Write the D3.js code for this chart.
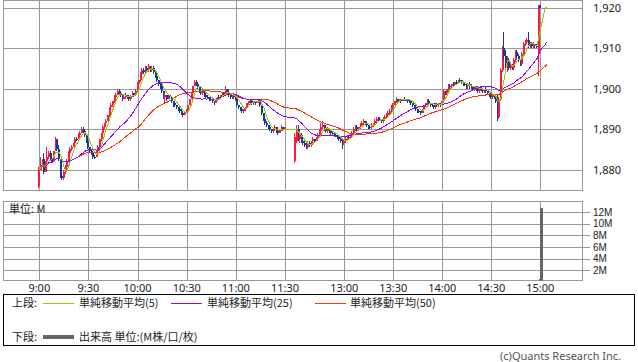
<!DOCTYPE html>
<html>
<head>
<meta charset="utf-8">
<script src="https://cdn.jsdelivr.net/npm/d3@7"></script>
<style>
  body { margin: 0; background: #fff; }
  svg { display: block; }
  text { font-family: "Noto Sans", "Noto Sans CJK JP", sans-serif; font-size: 11px; }
  .jp { font-family: "Noto Sans CJK JP", sans-serif; }
  .vl { font-family: "Liberation Sans", sans-serif; font-size: 10px; }
</style>
</head>
<body>
<div id="chart"></div>
<script>
// trading sessions (one candle per minute)
var sessions = [["9:00", "11:30"], ["12:30", "15:00"]];

var opens = [
  1876,1880,1881,1882.5,1879.5,1882,1883,1884,1882.5,1882,
  1884.5,1887.5,1885,1882.5,1878.5,1878,1879.5,1880.5,1882,1884,
  1885,1885.5,1886.5,1887.5,1887.5,1888.5,1889,1890,1889.5,1888.5,
  1887,1885.5,1884.5,1884,1883,1883,1884.5,1885.5,1887.5,1889,
  1890.5,1891.5,1892,1893.5,1895.5,1896,1897,1898,1898.5,1899.5,
  1899,1898.5,1897.5,1898,1898.5,1898,1897.5,1898,1899,1898.5,
  1899.5,1901,1902,1903.5,1904.5,1904,1905,1904.5,1905.5,1904.5,
  1905,1904,1903,1902,1901,1900.5,1899.5,1898,1898.5,1897.5,
  1898.5,1898,1897,1896.5,1896,1895.5,1895,1894.5,1894,1893.5,
  1894,1894.5,1896,1897.5,1899,1900.5,1901.5,1901,1900.5,1899.5,
  1899,1899.5,1898.5,1898,1898,1897.5,1897.5,1897,1896.5,1897.5,
  1898,1898,1898.5,1899,1898.5,1900,1899,1898.5,1898,1898.5,
  1898,1897.5,1896,1895.5,1895,1894.5,1895,1895.5,1896.5,1897,
  1897,1896.5,1897,1896.5,1897,1897.5,1896,1894,1892.5,1891.5,
  1891,1890.5,1890,1889.5,1890,1890.5,1889.5,1889,1890,1890.5,
  1890,
  1882,1887,1890,1887.5,1888.5,1887,1886.5,1886,1885.5,1886.5,
  1886,1887,1887.5,1887,1888,1888.5,1889.5,1890.5,1891,1890,
  1889.5,1890,1889.5,1889,1889,1888.5,1888.5,1888,1887.5,1887,
  1886.5,1887,1887.5,1888,1888,1888.5,1889,1890,1890.5,1890,
  1890.5,1891,1891.5,1892,1891.5,1891,1890.5,1890.5,1891,1891.5,
  1892,1892.5,1892.5,1892.5,1892,1892.5,1893,1893.5,1894,1894.5,
  1895.5,1896,1897,1897.5,1897,1897.5,1897,1897.5,1897,1897.5,
  1897,1897,1896.5,1896,1895.5,1895,1894.5,1894.5,1894,1895,
  1896,1896.5,1897,1896.5,1896,1896,1895.5,1896,1896,1896.5,
  1896,1897,1899.5,1899,1900,1900.5,1900.5,1901,1901,1901.5,
  1901.5,1902,1902,1901.5,1901,1901,1900.5,1901,1900.5,1900.5,
  1900,1900.5,1900,1899.5,1900,1900,1899.5,1900,1899.5,1899,
  1898.5,1898,1898.5,1898,1898,1893,1897.5,1904.5,1910,1908,
  1905,1907,1905,1905.5,1905,1907,1909,1908,1907,1906,
  1908.5,1911,1911.5,1912,1910.5,1911,1910.5,1911,1910.5,1909,
  1920.5
];
var highs = [
  1880.5,1883,1882.5,1884,1882,1885.5,1884.5,1884.5,1883,1884.5,
  1888,1887.5,1886,1882.5,1879,1880,1881,1882.5,1884.5,1885.5,
  1886,1886.5,1888,1888,1889,1889.5,1890.5,1890.5,1889.5,1888.5,
  1887,1885.5,1885,1884,1883.5,1884.5,1886,1887.5,1889,1891,
  1891.5,1892.5,1893.5,1895.5,1896.5,1897,1898.5,1899,1900,1900,
  1899,1898.5,1898.5,1899,1898.5,1898,1898.5,1899.5,1899,1900,
  1901.5,1902,1904,1905,1905,1905.5,1905.5,1906,1905.5,1905.5,
  1905.5,1904,1903,1902,1901.5,1900.5,1899.5,1899,1898.5,1898.5,
  1898.5,1898,1897,1897,1896,1895.5,1895,1895,1894,1894.5,
  1895,1896,1897.5,1899,1900.5,1902,1902,1901,1900.5,1899.5,
  1900,1899.5,1898.5,1898.5,1898,1898,1897.5,1897,1897.5,1898,
  1898.5,1898.5,1899,1899,1900.5,1900,1899,1898.5,1898.5,1898.5,
  1898,1897.5,1896,1895.5,1895,1895,1895.5,1896.5,1897,1897.5,
  1897.5,1897,1897,1897,1897.5,1897.5,1896,1894,1892.5,1892,
  1891,1891,1890,1890,1891,1890.5,1889.5,1890,1891,1890.5,
  1890.5,
  1889,1891,1891,1889,1889,1887.5,1887,1886.5,1887,1887,
  1887,1888,1887.5,1888,1889,1890,1891.5,1892,1891,1890.5,
  1890.5,1890,1890,1889.5,1889,1889,1888.5,1888.5,1888,1887.5,
  1887.5,1888,1888.5,1888.5,1889,1889.5,1890.5,1891,1891,1890.5,
  1891.5,1892,1892.5,1892,1892,1891,1891,1891.5,1891.5,1892.5,
  1893,1893,1893,1892.5,1893,1893.5,1894,1894.5,1895,1896,
  1896.5,1897,1898,1897.5,1897.5,1897.5,1897.5,1898,1897.5,1897.5,
  1897.5,1897,1896.5,1896,1895.5,1895,1895,1894.5,1895,1896,
  1896.5,1897.5,1897.5,1896.5,1896.5,1896,1896,1896.5,1896.5,1896.5,
  1897,1900,1899.5,1900,1901,1901,1901,1901.5,1901.5,1902,
  1902,1902.5,1902,1901.5,1901.5,1901,1901,1901.5,1901,1900.5,
  1900.5,1900.5,1900,1900,1900.5,1900,1900,1900.5,1899.5,1899,
  1898.5,1898.5,1898.5,1898,1898.5,1898,1905,1910.5,1914,1909.5,
  1908,1907.5,1906,1906,1907.5,1909.5,1909.5,1908.5,1907,1909,
  1911.5,1912,1912.5,1914,1911.5,1911.5,1911.5,1911,1911,1920.5,
  1920.5
];
var lows = [
  1875.5,1880,1880.5,1879,1879.5,1882,1882.5,1882,1881.5,1882,
  1884.5,1884.5,1882,1878,1877.5,1877.5,1879,1880,1882,1884,
  1884.5,1885.5,1886,1887,1887.5,1888,1889,1889,1888,1886.5,
  1885,1884,1883.5,1882.5,1882.5,1883,1884,1885,1887,1888.5,
  1890,1891.5,1892,1893,1895,1895.5,1896.5,1897.5,1898.5,1898.5,
  1898,1897,1897.5,1897.5,1897.5,1897,1897,1898,1898,1898.5,
  1899,1900.5,1901.5,1903,1903.5,1903.5,1904,1904,1904,1904,
  1903.5,1902.5,1901.5,1900.5,1900,1899,1897.5,1896.5,1897,1897.5,
  1897.5,1896.5,1895.5,1895.5,1895,1894.5,1894,1893.5,1893,1893.5,
  1894,1894.5,1896,1897.5,1898.5,1900.5,1900.5,1900,1899,1898.5,
  1898.5,1898,1897.5,1897.5,1897,1897,1896.5,1896,1896.5,1897,
  1897.5,1898,1898,1898,1898.5,1898.5,1898,1897.5,1897.5,1897.5,
  1897,1895.5,1895,1894.5,1894,1894,1894.5,1895,1896,1896.5,
  1896,1896,1896,1896.5,1896.5,1895.5,1893.5,1892,1891,1890.5,
  1890,1889.5,1889,1889,1889.5,1889,1888.5,1889,1889.5,1889.5,
  1890,
  1881.5,1886.5,1887,1886.5,1886.5,1886,1885.5,1885,1885,1885.5,
  1885.5,1886.5,1886.5,1887,1887.5,1888,1889,1890,1889.5,1889,
  1889,1889,1888.5,1888.5,1888,1888,1887.5,1887,1886.5,1885,
  1886,1886.5,1887,1887.5,1887.5,1888,1888.5,1889.5,1889.5,1889.5,
  1890,1890.5,1891,1891,1890.5,1890,1890,1890,1890.5,1891,
  1891.5,1892,1892,1891.5,1891.5,1892,1892.5,1893,1893.5,1894,
  1895,1896,1896.5,1896.5,1897,1896.5,1897,1897,1897,1896.5,
  1896.5,1896,1895.5,1895,1894.5,1894,1894,1893.5,1894,1895,
  1895.5,1896,1896,1895.5,1895.5,1895,1895,1895.5,1895.5,1895.5,
  1896,1896.5,1898.5,1898.5,1899.5,1900,1900,1900.5,1900.5,1901,
  1901,1901.5,1901,1900.5,1900.5,1900,1900,1900,1900,1899.5,
  1899.5,1899.5,1899,1899,1899.5,1899,1899,1899,1898.5,1898,
  1897.5,1897.5,1897.5,1896.5,1892,1892.5,1897,1904,1907,1903.5,
  1904,1904.5,1904.5,1904.5,1904.5,1906.5,1907.5,1906.5,1905.5,1905.5,
  1908,1910.5,1911,1910,1910,1910,1910,1910,1910,1903,
  1920
];
var closes = [
  1880,1881,1882.5,1879.5,1882,1883,1884,1882.5,1882,1884.5,
  1887.5,1885,1882.5,1878.5,1878,1879.5,1880.5,1882,1884,1885,
  1885.5,1886.5,1887.5,1887.5,1888.5,1889,1890,1889.5,1888.5,1887,
  1885.5,1884.5,1884,1883,1883,1884.5,1885.5,1887.5,1889,1890.5,
  1891.5,1892,1893.5,1895.5,1896,1897,1898,1898.5,1899.5,1899,
  1898.5,1897.5,1898,1898.5,1898,1897.5,1898,1899,1898.5,1899.5,
  1901,1902,1903.5,1904.5,1904,1905,1904.5,1905.5,1904.5,1905,
  1904,1903,1902,1901,1900.5,1899.5,1898,1898.5,1897.5,1898.5,
  1898,1897,1896.5,1896,1895.5,1895,1894.5,1894,1893.5,1894,
  1894.5,1896,1897.5,1899,1900.5,1901.5,1901,1900.5,1899.5,1899,
  1899.5,1898.5,1898,1898,1897.5,1897.5,1897,1896.5,1897.5,1898,
  1898,1898.5,1899,1898.5,1900,1899,1898.5,1898,1898.5,1898,
  1897.5,1896,1895.5,1895,1894.5,1895,1895.5,1896.5,1897,1897,
  1896.5,1897,1896.5,1897,1897.5,1896,1894,1892.5,1891.5,1891,
  1890.5,1890,1889.5,1890,1890.5,1889.5,1889,1890,1890.5,1890,
  1890.5,
  1888,1890,1887.5,1888.5,1887,1886.5,1886,1885.5,1886.5,1886,
  1887,1887.5,1887,1888,1888.5,1889.5,1890.5,1891,1890,1889.5,
  1890,1889.5,1889,1889,1888.5,1888.5,1888,1887.5,1887,1886.5,
  1887,1887.5,1888,1888,1888.5,1889,1890,1890.5,1890,1890.5,
  1891,1891.5,1892,1891.5,1891,1890.5,1890.5,1891,1891.5,1892,
  1892.5,1892.5,1892.5,1892,1892.5,1893,1893.5,1894,1894.5,1895.5,
  1896,1897,1897.5,1897,1897.5,1897,1897.5,1897,1897.5,1897,
  1897,1896.5,1896,1895.5,1895,1894.5,1894.5,1894,1895,1896,
  1896.5,1897,1896.5,1896,1896,1895.5,1896,1896,1896.5,1896,
  1897,1899.5,1899,1900,1900.5,1900.5,1901,1901,1901.5,1901.5,
  1902,1902,1901.5,1901,1901,1900.5,1901,1900.5,1900.5,1900,
  1900.5,1900,1899.5,1900,1900,1899.5,1900,1899.5,1899,1898.5,
  1898,1898.5,1898,1897,1893,1897.5,1904.5,1910,1908,1905,
  1907,1905,1905.5,1905,1907,1909,1908,1907,1906,1908.5,
  1911,1911.5,1912,1910.5,1911,1910.5,1911,1910.5,1910.5,1920,
  1920
];
// quotes after the close, only feed the moving averages
var postCloses = [1920, 1920, 1920, 1920];

var volumeTimes = ["14:59", "15:00"];
var volumes     = [0.5, 12.8];          // M shares

var priceTicks  = [1880, 1890, 1900, 1910, 1920];
var volumeTicks = [2, 4, 6, 8, 10, 12];
var timeTicks   = ["9:00", "9:30", "10:00", "10:30", "11:00", "11:30",
                   "13:00", "13:30", "14:00", "14:30", "15:00"];
var maPeriods   = [5, 25, 50];

var maColors = ["#99cc00", "#9900ff", "#ff3300"],
    upColor  = "#ff1744",
    dnColor  = "#0f3c9c",
    gridCol  = "#999";

function toMin(s) { var p = s.split(':'); return +p[0] * 60 + +p[1]; }

var candles = [];
sessions.forEach(function(s) {
    for (var m = toMin(s[0]); m <= toMin(s[1]); m++) candles.push({ t: m });
});
candles.forEach(function(d, i) {
    d.o = opens[i]; d.h = highs[i]; d.l = lows[i]; d.c = closes[i];
});
var lastT = candles[candles.length - 1].t;
var maSrc = candles.map(function(d) { return { t: d.t, c: d.c }; })
    .concat(postCloses.map(function(c, i) { return { t: lastT + 1 + i, c: c }; }));

function sma(n) {
    return maSrc.map(function(d, i) {
        return { t: d.t, v: d3.mean(maSrc.slice(Math.max(0, i - n + 1), i + 1), function(e) { return e.c; }) };
    });
}

var L = 3.5, R = 582.5,
    pTop = 0.5, pBot = 190.5,
    vTop = 201.5, vBot = 280.5;

var svg = d3.select('#chart').append('svg').attr('width', 638).attr('height', 362);
svg.append('rect').attr('width', 638).attr('height', 362).attr('fill', '#fff');

var x = d3.scaleLinear()
    .domain([toMin("9:00"), toMin("11:30"), toMin("12:30"), toMin("15:00")])
    .range([39.3, 285, 295.3, 540.3]);
var y = d3.scaleLinear().domain([1880, 1920]).range([169.5, 7.5]);
var v = d3.scaleLinear().domain([0, 12]).range([281.8, 212.2]);

function px(val) { return Math.round(val) + 0.5; }

// grids
var grid = svg.append('g').attr('stroke', gridCol).attr('shape-rendering', 'crispEdges');
[[pTop, pBot], [vTop, vBot]].forEach(function(p) {
    grid.selectAll(null).data(timeTicks).enter().append('line')
        .attr('x1', function(d) { return px(x(toMin(d))); })
        .attr('x2', function(d) { return px(x(toMin(d))); })
        .attr('y1', p[0]).attr('y2', p[1]);
    grid.append('rect').attr('x', L).attr('y', p[0]).attr('width', R - L).attr('height', p[1] - p[0])
        .attr('fill', 'none');
});
grid.selectAll(null).data(priceTicks).enter().append('line')
    .attr('x1', L).attr('x2', R)
    .attr('y1', function(d) { return px(y(d)); }).attr('y2', function(d) { return px(y(d)); });
grid.selectAll(null).data(volumeTicks).enter().append('line')
    .attr('x1', L).attr('x2', R + 7)
    .attr('y1', function(d) { return px(v(d)); }).attr('y2', function(d) { return px(v(d)); });

// candles
var cg = svg.append('g').attr('shape-rendering', 'crispEdges');
var cs = cg.selectAll('g').data(candles).enter().append('g')
    .attr('fill', function(d) { return d.c > d.o ? upColor : dnColor; })
    .attr('stroke', function(d) { return d.c > d.o ? upColor : dnColor; });
cs.append('line')
    .attr('x1', function(d) { return Math.round(x(d.t)) - 0.5; })
    .attr('x2', function(d) { return Math.round(x(d.t)) - 0.5; })
    .attr('y1', function(d) { return y(d.h); })
    .attr('y2', function(d) { return y(d.l); });
cs.append('rect')
    .attr('stroke', 'none')
    .attr('x', function(d) { return Math.round(x(d.t)) - 1; })
    .attr('width', 2)
    .attr('y', function(d) { return y(Math.max(d.o, d.c)); })
    .attr('height', function(d) { return Math.max(1, y(Math.min(d.o, d.c)) - y(Math.max(d.o, d.c))); });

// moving averages
var line = d3.line().x(function(d) { return x(d.t); }).y(function(d) { return y(d.v); });
maPeriods.slice().reverse().forEach(function(n, k) {
    var i = maPeriods.length - 1 - k;
    svg.append('path').datum(sma(n))
        .attr('d', line).attr('fill', 'none')
        .attr('stroke', maColors[i]).attr('stroke-width', 1)
        .attr('shape-rendering', 'crispEdges');
});

// volume
svg.append('clipPath').attr('id', 'vclip').append('rect')
    .attr('x', L).attr('y', vTop).attr('width', R - L).attr('height', vBot - vTop);
svg.append('g').attr('clip-path', 'url(#vclip)').attr('shape-rendering', 'crispEdges')
    .selectAll('rect').data(volumes).enter().append('rect')
    .attr('fill', '#666')
    .attr('x', function(d, i) { return Math.round(x(toMin(volumeTimes[i]))); })
    .attr('width', 3)
    .attr('y', function(d) { return v(d); })
    .attr('height', function(d) { return v(0) - v(d); });

// labels
var fmt = d3.format(',');
svg.selectAll('.pl').data(priceTicks).enter().append('text')
    .attr('x', 593).attr('y', function(d) { return y(d) + 4; })
    .attr('fill', '#222').text(function(d) { return fmt(d); });
svg.selectAll('.vl').data(volumeTicks).enter().append('text')
    .attr('class', 'vl')
    .attr('x', 593).attr('y', function(d) { return v(d) + 3.5; })
    .attr('fill', '#222').text(function(d) { return d + 'M'; });
svg.selectAll('.tl').data(timeTicks).enter().append('text')
    .attr('x', function(d) { return x(toMin(d)); }).attr('y', 291.5)
    .attr('text-anchor', 'middle').attr('fill', '#222').text(function(d) { return d; });
svg.append('text').attr('class', 'jp').attr('x', 9).attr('y', 213).attr('fill', '#222').text('単位: M');

// legend
var lg = svg.append('g');
lg.append('rect').attr('x', 3.5).attr('y', 294.5).attr('width', 631).attr('height', 51)
    .attr('fill', 'none').attr('stroke', '#000').attr('shape-rendering', 'crispEdges');
lg.append('text').attr('class', 'jp').attr('x', 12).attr('y', 307).attr('fill', '#222').text('上段:');
var items = [[43, 79], [171, 207], [315, 350]];
maPeriods.forEach(function(n, i) {
    lg.append('line').attr('x1', items[i][0]).attr('x2', items[i][0] + 31)
        .attr('y1', 303.5).attr('y2', 303.5).attr('stroke', maColors[i]).attr('shape-rendering', 'crispEdges');
    lg.append('text').attr('class', 'jp').attr('x', items[i][1]).attr('y', 307).attr('fill', '#222')
        .text('単純移動平均(' + n + ')');
});
lg.append('text').attr('class', 'jp').attr('x', 12).attr('y', 341).attr('fill', '#222').text('下段:');
lg.append('line').attr('x1', 43).attr('x2', 74).attr('y1', 337).attr('y2', 337)
    .attr('stroke', '#666').attr('stroke-width', 4);
lg.append('text').attr('class', 'jp').attr('x', 79).attr('y', 341).attr('fill', '#222')
    .text('出来高 単位:(M株/口/枚)');

svg.append('text').attr('x', 500).attr('y', 360).attr('fill', '#555').text('(c)Quants Research Inc.');
</script>
</body>
</html>
